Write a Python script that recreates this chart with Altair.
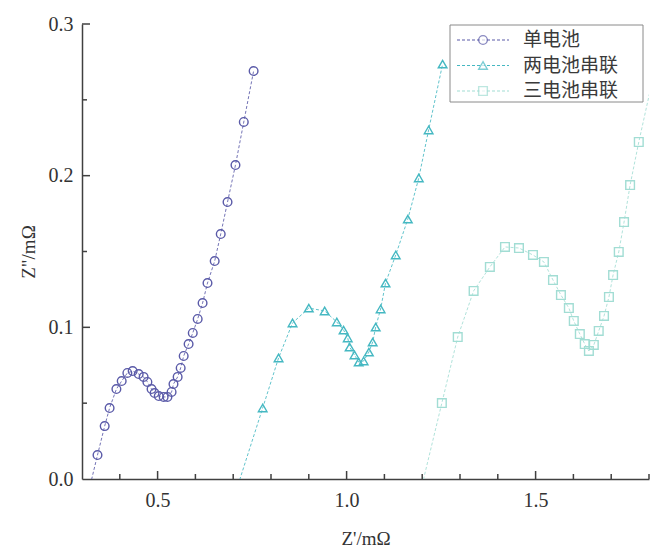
import altair as alt
import pandas as pd

# ---- data ----
series_names = ["单电池", "两电池串联", "三电池串联"]

s1_x = [0.316, 0.341, 0.360, 0.373, 0.391, 0.405, 0.420, 0.434, 0.450, 0.463, 0.473, 0.484,
        0.492, 0.503, 0.516, 0.526, 0.537, 0.542, 0.553, 0.561, 0.569, 0.582, 0.593, 0.606,
        0.619, 0.632, 0.651, 0.667, 0.685, 0.706, 0.728, 0.754]
s1_y = [-0.010, 0.0158, 0.0349, 0.0468, 0.0593, 0.0646, 0.0699, 0.0712, 0.0692, 0.0673, 0.0640, 0.0593,
        0.0567, 0.0547, 0.0541, 0.0541, 0.0574, 0.0626, 0.0673, 0.0732, 0.0811, 0.0890, 0.0963, 0.1055,
        0.1160, 0.1292, 0.1437, 0.1615, 0.1826, 0.2070, 0.2354, 0.2690]

s2_x = [0.705, 0.778, 0.820, 0.857, 0.900, 0.942, 0.974, 0.992, 1.003, 1.008, 1.021, 1.032,
        1.045, 1.059, 1.069, 1.077, 1.090, 1.103, 1.130, 1.162, 1.191, 1.217, 1.254]
s2_y = [-0.010, 0.0468, 0.0798, 0.1029, 0.1127, 0.1108, 0.1035, 0.0982, 0.0930, 0.0870, 0.0818, 0.0771,
        0.0778, 0.0837, 0.0903, 0.1002, 0.1121, 0.1292, 0.1477, 0.1714, 0.1985, 0.2301, 0.2736]

s3_x = [1.194, 1.252, 1.294, 1.336, 1.379, 1.419, 1.456, 1.493, 1.522, 1.546, 1.567, 1.588,
        1.601, 1.617, 1.630, 1.641, 1.654, 1.667, 1.681, 1.694, 1.705, 1.720, 1.734, 1.750,
        1.773, 1.821]
s3_y = [-0.010, 0.0501, 0.0936, 0.1240, 0.1398, 0.1530, 0.1523, 0.1477, 0.1431, 0.1312, 0.1213, 0.1127,
        0.1042, 0.0956, 0.0890, 0.0844, 0.0884, 0.0976, 0.1075, 0.1200, 0.1345, 0.1497, 0.1694, 0.1938,
        0.2222, 0.2763]

x_labels = [0.5, 1.0, 1.5]
x_minor = [0.4, 0.6, 0.7, 0.8, 0.9, 1.1, 1.2, 1.3, 1.4, 1.6, 1.7, 1.8]
y_labels = [0.0, 0.1, 0.2, 0.3]
y_major = [0.1, 0.2, 0.3]
y_minor = [0.05, 0.15, 0.25]

# ---- styling ----
colors = ["#5a5aa8", "#45b8c2", "#a2ddd4"]
shapes = ["circle", "triangle-up", "square"]
W, H = 567, 455
SERIF = "Liberation Serif"
AX = "#404040"

rows = []
for name, xs, ys in [(series_names[0], s1_x, s1_y), (series_names[1], s2_x, s2_y),
                     (series_names[2], s3_x, s3_y)]:
    for i, (a, b) in enumerate(zip(xs, ys)):
        rows.append({"series": name, "x": a, "y": b, "idx": i})
df = pd.DataFrame(rows)

xscale = alt.Scale(domain=[0.3, 1.8], nice=False, zero=False)
yscale = alt.Scale(domain=[0.0, 0.3], nice=False, zero=False)
xaxis = alt.Axis(values=x_labels, format=".1f", grid=False, ticks=False, tickSize=0,
                 domainColor=AX, domainWidth=1.5, labelFont=SERIF, labelFontSize=20,
                 labelColor="#333", labelPadding=11, title="Z'/mΩ", titleFont=SERIF,
                 titleFontSize=19, titleFontWeight="normal", titleColor="#333",
                 titleX=W / 2, titleY=59, titleBaseline="middle", titleAlign="center")
yaxis = alt.Axis(values=y_labels, format=".1f", grid=False, ticks=False, tickSize=0,
                 domainColor=AX, domainWidth=1.5, labelFont=SERIF, labelFontSize=20,
                 labelColor="#333", labelPadding=9, title='Z"/mΩ', titleFont=SERIF,
                 titleFontSize=19, titleFontWeight="normal", titleColor="#333",
                 titleX=-54, titleY=H / 2, titleAngle=-90, titleBaseline="middle",
                 titleAlign="center")

color_enc = alt.Color("series:N", scale=alt.Scale(domain=series_names, range=colors), legend=None)
shape_enc = alt.Shape("series:N", scale=alt.Scale(domain=series_names, range=shapes), legend=None)

base = alt.Chart(df)
lines = base.mark_line(strokeDash=[3, 2], strokeWidth=1, clip=True, opacity=0.85).encode(
    x=alt.X("x:Q", scale=xscale, axis=xaxis),
    y=alt.Y("y:Q", scale=yscale, axis=yaxis),
    color=color_enc,
    detail="series:N",
    order="idx:Q",
)
points = base.mark_point(filled=False, size=75, strokeWidth=1.4, clip=True, opacity=1).encode(
    x=alt.X("x:Q", scale=xscale, axis=xaxis),
    y=alt.Y("y:Q", scale=yscale, axis=yaxis),
    color=color_enc,
    shape=shape_enc,
)

# inward ticks
def xtick(vals, length):
    return alt.Chart(pd.DataFrame({"x": vals})).mark_rule(color=AX, strokeWidth=1.5).encode(
        x=alt.X("x:Q", scale=xscale, axis=xaxis), y=alt.value(H), y2=alt.value(H - length))

def ytick(vals, length):
    return alt.Chart(pd.DataFrame({"y": vals})).mark_rule(color=AX, strokeWidth=1.5).encode(
        y=alt.Y("y:Q", scale=yscale, axis=yaxis), x=alt.value(0), x2=alt.value(length))

ticks = [xtick(x_labels, 8), xtick(x_minor, 5), ytick(y_major, 8), ytick(y_minor, 5)]

# legend (drawn manually so that dashed line + marker appear together)
leg_df = pd.DataFrame({"series": series_names})
box = alt.Chart(leg_df.head(1)).mark_rect(fill="white", stroke="#8a8a8a", strokeWidth=1).encode(
    x=alt.value(368), x2=alt.value(561), y=alt.value(1), y2=alt.value(78))
legend_layers = [box]
row_y = [16, 41.5, 67]
for i, name in enumerate(series_names):
    d = alt.Chart(leg_df).transform_filter(alt.datum.series == name)
    legend_layers.append(d.mark_rule(color=colors[i], strokeDash=[3, 2], strokeWidth=1.2).encode(
        x=alt.value(375), x2=alt.value(427), y=alt.value(row_y[i])))
    legend_layers.append(d.mark_point(shape=shapes[i], filled=False, fill="white", size=75,
                                      strokeWidth=1.4, color=colors[i]).encode(
        x=alt.value(401), y=alt.value(row_y[i])))
    legend_layers.append(d.mark_text(align="left", baseline="middle", font="Noto Sans CJK SC",
                                     fontSize=19, color="#3a3a3a").encode(
        x=alt.value(441), y=alt.value(row_y[i]), text="series:N"))

chart = alt.layer(lines, points, *ticks, *legend_layers).properties(
    width=W, height=H,
    autosize=alt.AutoSizeParams(type="none"),
    padding={"left": 74, "top": 16, "right": 4, "bottom": 70},
    background="white",
).configure_view(stroke=None)

chart.save("out.html", embed_options={"renderer": "svg", "actions": False})
